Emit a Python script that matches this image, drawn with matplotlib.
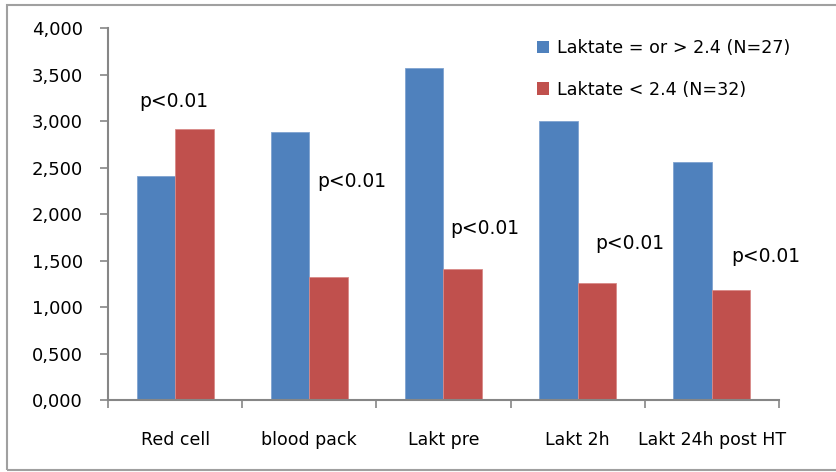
import matplotlib
matplotlib.use("Agg")
import matplotlib.pyplot as plt
from matplotlib.ticker import FuncFormatter, FixedLocator
from matplotlib.patches import Rectangle, Patch

categories = ["Red cell", "blood pack", "Lakt pre", "Lakt 2h", "Lakt 24h post HT"]
high_lactate = [2.41, 2.88, 3.575, 3.00, 2.565]
low_lactate = [2.915, 1.33, 1.41, 1.26, 1.19]
series_labels = ["Laktate = or > 2.4 (N=27)", "Laktate < 2.4 (N=32)"]
p_labels = ["p<0.01"] * 5
p_y = [3.21, 2.35, 1.85, 1.69, 1.55]
p_dx = [-0.01, 0.315, 0.31, 0.39, 0.40]

blue = "#4F81BD"
red = "#C0504D"
axis_gray = "#868686"

plt.rcParams['font.family'] = ['DejaVu Sans']

W, H = 837, 472
fig = plt.figure(figsize=(W / 100, H / 100), dpi=100)
fig.patch.set_facecolor("white")

# outer border
fig.patches.append(Rectangle((7 / W, 1 - 470 / H), 1.0, (470 - 5) / H,
                             transform=fig.transFigure, fill=False,
                             edgecolor="#A0A0A0", linewidth=1.5, zorder=0))

ax = fig.add_axes([108 / W, 1 - 400.3 / H, (779 - 108) / W, (400.3 - 28) / H])
x = list(range(len(categories)))
bw = 0.2875
ax.bar([i - bw / 2 for i in x], high_lactate, width=bw, color=blue,
       edgecolor="#7FA3D0", linewidth=0.6, label=series_labels[0], zorder=2)
ax.bar([i + bw / 2 for i in x], low_lactate, width=bw, color=red,
       edgecolor="#D88A88", linewidth=0.6, label=series_labels[1], zorder=2)

for i, (t, yv, dx) in enumerate(zip(p_labels, p_y, p_dx)):
    ax.text(i + dx, yv, t, ha="center", va="center", fontsize=13.5, color="black")

ax.set_xlim(-0.5, len(categories) - 0.5)
ax.set_ylim(0, 4)
ax.set_yticks([0, 0.5, 1, 1.5, 2, 2.5, 3, 3.5, 4])
ax.yaxis.set_major_formatter(FuncFormatter(lambda v, p: f"{v:.3f}".replace('.', ',')))
ax.set_xticks(x)
ax.set_xticklabels(categories)
ax.xaxis.set_minor_locator(FixedLocator([i - 0.5 for i in range(len(categories) + 1)]))
ax.tick_params(axis="x", which="major", length=0, pad=22, labelsize=12.5)
ax.tick_params(axis="x", which="minor", length=6, color=axis_gray, width=1.2, direction="out")
ax.tick_params(axis="y", which="major", length=6, color=axis_gray, width=1.2, pad=12, labelsize=13)

for s in ["top", "right"]:
    ax.spines[s].set_visible(False)
for s in ["left", "bottom"]:
    ax.spines[s].set_color(axis_gray)
    ax.spines[s].set_linewidth(1.5)

handles = [Patch(facecolor=blue, edgecolor="none"), Patch(facecolor=red, edgecolor="none")]
leg = ax.legend(handles, series_labels, loc="upper left",
                bbox_to_anchor=((530 - 108) / (779 - 108), (400.3 - 32) / (400.3 - 28)),
                frameon=False, fontsize=12.6, handlelength=0.7, handleheight=0.7,
                handletextpad=0.45, labelspacing=1.35, borderaxespad=0)

fig.savefig("out.png", dpi=100)
